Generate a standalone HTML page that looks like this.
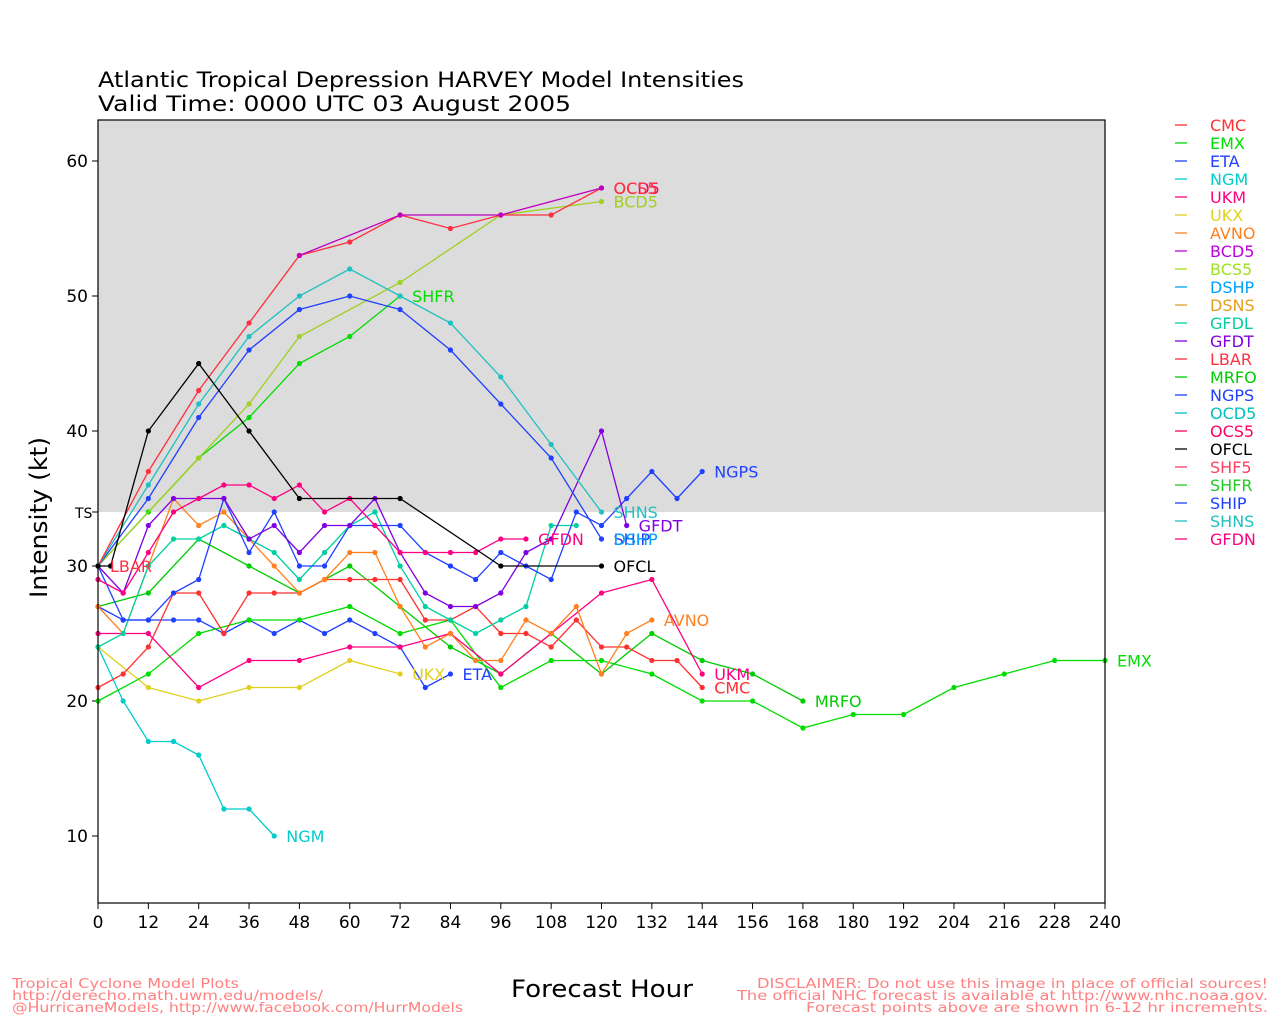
<!DOCTYPE html>
<html><head><meta charset="utf-8"><style>
html,body{margin:0;padding:0;background:#fff;}
svg text{font-family:"DejaVu Sans","Liberation Sans",sans-serif;}
</style></head><body>
<svg id="s" width="1280" height="1024" xmlns="http://www.w3.org/2000/svg">
<rect x="0" y="0" width="1280" height="1024" fill="#fff"/>
<rect x="98" y="120" width="1007" height="392" fill="#dcdcdc"/>
<g id="g"></g>
<rect x="98" y="120" width="1007" height="783" fill="none" stroke="#000" stroke-width="1.2"/>
<text x="98" y="87" font-size="21" textLength="646" lengthAdjust="spacingAndGlyphs">Atlantic Tropical Depression HARVEY Model Intensities</text>
<text x="98" y="111" font-size="21" textLength="473" lengthAdjust="spacingAndGlyphs">Valid Time: 0000 UTC 03 August 2005</text>
<text transform="translate(47,598) rotate(-90)" font-size="24" textLength="161" lengthAdjust="spacingAndGlyphs">Intensity (kt)</text>
<text x="511" y="997" font-size="24" textLength="182" lengthAdjust="spacingAndGlyphs">Forecast Hour</text>
<text x="75" y="518" font-size="14">TS</text>
<g font-size="13" fill="#ff8080">
<text x="12" y="988" textLength="227" lengthAdjust="spacingAndGlyphs">Tropical Cyclone Model Plots</text>
<text x="12" y="1000" textLength="311" lengthAdjust="spacingAndGlyphs">http://derecho.math.uwm.edu/models/</text>
<text x="12" y="1012" textLength="451" lengthAdjust="spacingAndGlyphs">@HurricaneModels, http://www.facebook.com/HurrModels</text>
<text x="757" y="988" textLength="511" lengthAdjust="spacingAndGlyphs">DISCLAIMER: Do not use this image in place of official sources!</text>
<text x="737" y="1000" textLength="531" lengthAdjust="spacingAndGlyphs">The official NHC forecast is available at http://www.nhc.noaa.gov.</text>
<text x="806" y="1012" textLength="462" lengthAdjust="spacingAndGlyphs">Forecast points above are shown in 6-12 hr increments.</text>
</g>
</svg>
<script>
var g=document.getElementById('g');var NS='http://www.w3.org/2000/svg';
function X(h){return 98+h*1007/240;}function Y(v){return 161+(60-v)*13.5;}
function el(t,a,txt){var e=document.createElementNS(NS,t);for(var k in a)e.setAttribute(k,a[k]);if(txt)e.textContent=txt;g.appendChild(e);return e;}
for(var h=0;h<=240;h+=12){el('line',{x1:X(h),y1:903,x2:X(h),y2:909,stroke:'#000'});el('text',{x:X(h),y:928,'text-anchor':'middle','font-size':17},''+h);}
for(var v=10;v<=60;v+=10){el('line',{x1:92,y1:Y(v),x2:98,y2:Y(v),stroke:'#000'});el('text',{x:88,y:Y(v)+6,'text-anchor':'end','font-size':17},''+v);}
el('line',{x1:92,y1:Y(34),x2:98,y2:Y(34),stroke:'#000'});
function P(s){var a=s.split(' ');return a.map(function(p){var q=p.split(':');return [+q[0],+q[1]];});}
var S=[
['#00cccc','0:24 6:20 12:17 18:17 24:16 30:12 36:12 42:10','NGM'],
['#e0d020','0:24 12:21 24:20 36:21 48:21 60:23 72:22','UKX'],
['#2040ff','0:27 6:26 12:26 18:26 24:26 30:25 36:26 42:25 48:26 54:25 60:26 66:25 72:24 78:21 84:22','ETA'],
['#00dd00','0:20 12:22 24:25 36:26 48:26 60:27 72:25 84:26 96:21 108:23 120:23 132:22 144:20 156:20 168:18 180:19 192:19 204:21 216:22 228:23 240:23','EMX'],
['#00cc00','0:27 12:28 24:32 36:30 48:28 60:30 72:27 84:24 96:22 108:25 120:22 132:25 144:23 156:22 168:20','MRFO'],
['#ff3030','0:21 6:22 12:24 18:28 24:28 30:25 36:28 42:28 48:28 54:29 60:29 66:29 72:29 78:26 84:26 90:27 96:25 102:25 108:24 114:26 120:24 126:24 132:23 138:23 144:21','CMC'],
['#ff0080','0:25 12:25 24:21 36:23 48:23 60:24 72:24 84:25 96:22 108:25 120:28 132:29 144:22','UKM'],
['#ff8020','0:27 6:25 12:30 18:35 24:33 30:34 36:32 42:30 48:28 54:29 60:31 66:31 72:27 78:24 84:25 90:23 96:23 102:26 108:25 114:27 120:22 126:25 132:26','AVNO'],
['#00d0a0','0:24 6:25 12:30 18:32 24:32 30:33 36:32 42:31 48:29 54:31 60:33 66:34 72:30 78:27 84:26 90:25 96:26 102:27 108:33 114:33','' ],
['#2040ff','0:30 6:26 12:26 18:28 24:29 30:35 36:31 42:34 48:30 54:30 60:33 66:33 72:33 78:31 84:30 90:29 96:31 102:30 108:29 114:34 120:33 126:35 132:37 138:35 144:37','NGPS'],
['#8000e0','0:30 6:28 12:33 18:35 24:35 30:35 36:32 42:33 48:31 54:33 60:33 66:35 72:31 78:28 84:27 90:27 96:28 102:31 108:32 120:40 126:33','GFDT'],
['#ff0080','0:29 6:28 12:31 18:34 24:35 30:36 36:36 42:35 48:36 54:34 60:35 66:33 72:31 78:31 84:31 90:31 96:32 102:32','GFDN'],
['#00dd00','0:30 12:34 24:38 36:41 48:45 60:47 72:50','SHFR'],
['#a0d020','0:30 24:38 36:42 48:47 72:51 96:56 120:57','BCD5'],
['#2040ff','0:30 12:35 24:41 36:46 48:49 60:50 72:49 84:46 96:42 108:38 120:32','SHIP'],
['#20c0c0','0:30 12:36 24:42 36:47 48:50 60:52 72:50 84:48 96:44 108:39 120:34','SHNS'],
['#ff3040','0:30 12:37 24:43 36:48 48:53 60:54 72:56 84:55 96:56 108:56 120:58','OCS5'],
['#c000c0','48:53 72:56 96:56 120:58',''],
['#000000','0:30 3:30 12:40 24:45 36:40 48:35 72:35 96:30 120:30','OFCL']
];
S.forEach(function(s){var p=P(s[1]);el('polyline',{points:p.map(function(q){return X(q[0])+','+Y(q[1]);}).join(' '),fill:'none',stroke:s[0],'stroke-width':1.3});
p.forEach(function(q){el('circle',{cx:X(q[0]),cy:Y(q[1]),r:2.6,fill:s[0]});});});
var L=[['NGM',42,10,'#00cccc'],['UKX',72,22,'#e0d020'],['ETA',84,22,'#2040ff'],['EMX',240,23,'#00dd00'],['MRFO',168,20,'#00cc00'],['CMC',144,21,'#ff3030'],['UKM',144,22,'#ff0080'],['AVNO',132,26,'#ff8020'],['NGPS',144,37,'#2040ff'],['GFDT',126,33,'#8000e0'],['GFDN',102,32,'#ff0080'],['SHFR',72,50,'#00dd00'],['BCD5',120,57,'#a0d020'],['SHIP',120,32,'#2040ff'],['DSHP',120,32,'#00a0ff'],['SHNS',120,34,'#20c0c0'],['OCD5',120,58,'#ff0060'],['OCS5',120,58,'#ff3040'],['OFCL',120,30,'#000'],['LBAR',0,30,'#ff3040']];
L.forEach(function(l){el('text',{x:X(l[1])+12,y:Y(l[2])+6,'font-size':16,fill:l[3]},l[0]);});
var LG=[['CMC','#ff3030'],['EMX','#00dd00'],['ETA','#2040ff'],['NGM','#00cccc'],['UKM','#ff0080'],['UKX','#e0d020'],['AVNO','#ff8020'],['BCD5','#c000e0'],['BCS5','#a0e020'],['DSHP','#00a0ff'],['DSNS','#e0a020'],['GFDL','#00d0a0'],['GFDT','#8000e0'],['LBAR','#ff3040'],['MRFO','#00cc00'],['NGPS','#2040ff'],['OCD5','#00c0c0'],['OCS5','#ff0060'],['OFCL','#000000'],['SHF5','#ff4060'],['SHFR','#20cc20'],['SHIP','#2040ff'],['SHNS','#20c0c0'],['GFDN','#ff0080']];
LG.forEach(function(l,i){var y=125+i*18;el('line',{x1:1175,y1:y,x2:1187,y2:y,stroke:l[1],'stroke-width':1.3});el('text',{x:1210,y:y+6,'font-size':16,fill:l[1]},l[0]);});
</script>
</body></html>
